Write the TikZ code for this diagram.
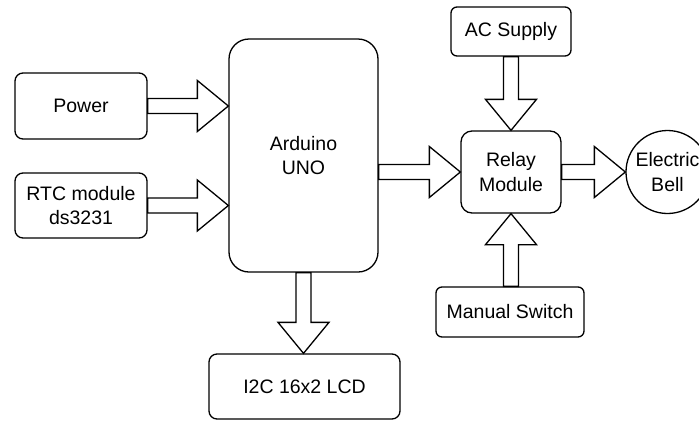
\documentclass[tikz,border=0pt]{standalone}
\usepackage{fontspec}
\setmainfont{Liberation Sans}
\usetikzlibrary{calc}
\tikzset{
  box/.style={draw, line width=1.3pt, rounded corners=#1, align=center, inner sep=0pt,
    font=\fontsize{19.5}{24.5}\selectfont},
  box/.default=8pt,
  bellnode/.style={draw, circle, line width=1.3pt, align=center, inner sep=0pt,
    font=\fontsize{19.5}{24.5}\selectfont},
  blockar/.style={draw, line width=1.3pt, fill=white, line join=miter}
}
\newcommand\blockarrow[2]{%
  \coordinate (hb) at ($(#2)!31pt!(#1)$);
  \draw[blockar] ($(#1)!7.5pt!90:(#2)$) -- ($(hb)!7.5pt!90:(#2)$) -- ($(hb)!25.5pt!90:(#2)$)
    -- (#2) -- ($(hb)!25.5pt!-90:(#2)$) -- ($(hb)!7.5pt!-90:(#2)$) -- ($(#1)!7.5pt!-90:(#2)$) -- cycle;
}
\begin{document}
\begin{tikzpicture}[x=1pt,y=-1pt]
  \useasboundingbox (0,0) rectangle (699,421);
  \fill[white] (0,0) rectangle (699,421);
  \clip (0,0) rectangle (699,421);
  \node[box=8pt, minimum width=132pt, minimum height=66pt] (pw) at (81,106) {Power};
  \node[box=8pt, minimum width=132pt, minimum height=65pt] (rtc) at (81,205.5) {RTC module\\ds3231};
  \node[box=20pt, minimum width=149pt, minimum height=233pt] (ard) at (303.5,155.5) {Arduino\\UNO};
  \node[box=6pt, minimum width=120pt, minimum height=49pt] (ac) at (511,31.5) {AC Supply};
  \node[box=11pt, minimum width=100pt, minimum height=82pt] (rel) at (511,172) {Relay\\Module};
  \node[box=6pt, minimum width=148pt, minimum height=50pt] (man) at (510,312) {Manual Switch};
  \node[box=8pt, minimum width=191pt, minimum height=65pt] (lcd) at (304.5,386.5) {I2C 16x2 LCD};
  \node[bellnode, minimum size=83pt] (bell) at (667.5,172) {Electric\\Bell};

  \coordinate (pwt) at (ard.west |- pw.east);
  \coordinate (rtct) at (ard.west |- rtc.east);
  \coordinate (ardo) at (ard.east |- rel.west);
  \coordinate (lcdt) at (ard.south |- lcd.north);
  \coordinate (acb) at (rel.north |- ac.south);
  \coordinate (mant) at (rel.south |- man.north);

  \blockarrow{pw.east}{pwt}
  \blockarrow{rtc.east}{rtct}
  \blockarrow{ardo}{rel.west}
  \blockarrow{ard.south}{lcdt}
  \blockarrow{acb}{rel.north}
  \blockarrow{mant}{rel.south}
  \blockarrow{rel.east}{bell.west}
\end{tikzpicture}
\end{document}
